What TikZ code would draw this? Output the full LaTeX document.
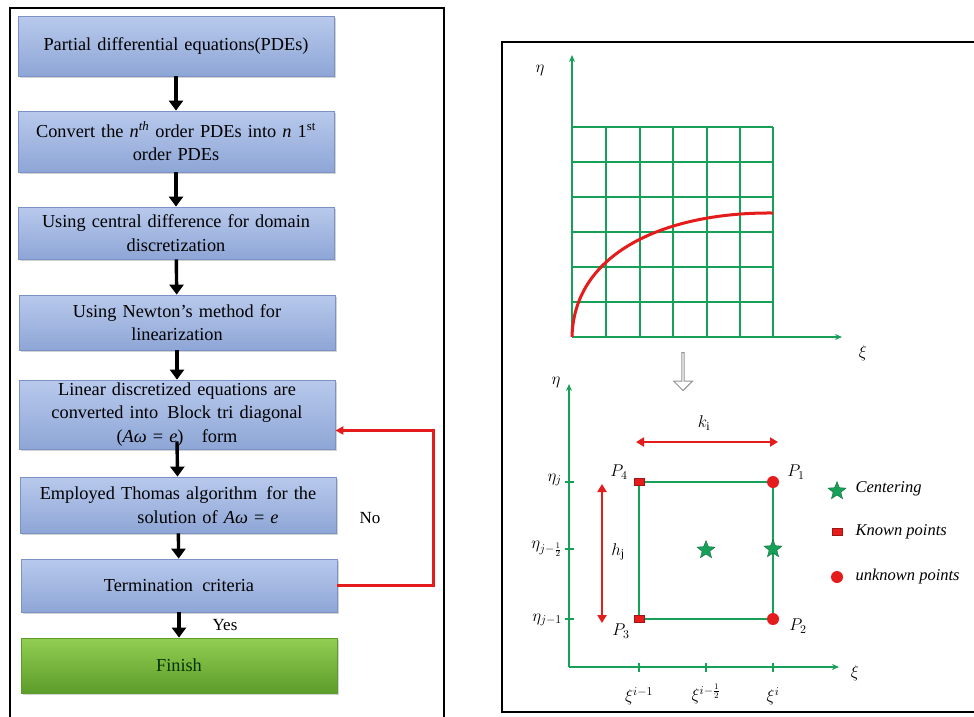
\RequirePackage{fix-cm}
\documentclass[tikz,border=0pt]{standalone}
\usepackage{amsmath,amssymb}
\usepackage{fontspec}
\setmainfont{Liberation Serif}
\usetikzlibrary{arrows.meta,shapes.geometric,shapes.arrows,shadows}

\definecolor{boxtop}{RGB}{184,201,236}
\definecolor{boxbot}{RGB}{142,166,214}
\definecolor{boxline}{RGB}{122,146,196}
\definecolor{fintop}{RGB}{146,206,82}
\definecolor{finbot}{RGB}{92,156,42}
\definecolor{gridgreen}{RGB}{22,160,88}
\definecolor{loopred}{RGB}{228,28,28}

\newcommand{\eqAe}{(\textit{Aω}~=~\textit{e})}

\tikzset{
  stepbox/.style={draw=boxline, line width=0.8pt, top color=boxtop, bottom color=boxbot,
    minimum width=316pt, text width=306pt, align=center, inner sep=2pt,
    font=\fontsize{18.3}{23.5}\selectfont,
    drop shadow={opacity=0.35, shadow xshift=1.5pt, shadow yshift=-2pt}},
  finbox/.style={stepbox, draw=finbot, top color=fintop, bottom color=finbot},
  flow/.style={-{Triangle[length=10pt,width=14pt]}, line width=3.4pt},
  gaxis/.style={-{Stealth[length=7pt,width=6pt]}, gridgreen, line width=1.6pt},
  tick/.style={gridgreen, line width=1.4pt},
  lab/.style={font=\fontsize{17}{19}\selectfont, inner sep=1pt},
  known/.style={rectangle, fill=loopred, draw=loopred!70!black, minimum width=10pt, minimum height=7pt, inner sep=0pt},
  unknown/.style={circle, fill=loopred, minimum size=12pt, inner sep=0pt},
  centre/.style={star, star points=5, star point ratio=2.3, fill=gridgreen, draw=gridgreen!60!black, line width=0.3pt, minimum size=19pt, inner sep=0pt}
}

\begin{document}
\begin{tikzpicture}[x=1pt, y=-1pt]
\useasboundingbox (0,0) rectangle (974,716);

% frames
\draw[line width=2pt] (10,718) -- (10,8) -- (444,8) -- (444,718);
\draw[line width=1.8pt] (976,42) -- (502,42) -- (502,712) -- (976,712);

% flowchart (left)
\node[stepbox, minimum height=60pt] (pde) at (176,46) {Partial differential equations(PDEs)};
\node[stepbox, minimum height=61pt] (conv) at (176,141.5) {Convert the \textit{n}\textsuperscript{\textit{th}} order PDEs into \textit{n} 1\textsuperscript{st}\\ order PDEs};
\node[stepbox, minimum height=52pt] (disc) at (176,233) {Using central difference for domain\\ discretization};
\node[stepbox, minimum height=55pt] (newt) at (177,322.5) {Using Newton's method for\\ linearization};
\node[stepbox, minimum height=69pt] (lin) at (177,414.5) {Linear discretized equations are\\ converted into\, Block tri diagonal\\ \eqAe\quad form};
\node[stepbox, minimum height=56pt] (thom) at (178,505) {Employed Thomas algorithm\, for the\\ \hspace*{60pt}solution of \textit{Aω}~=~\textit{e}};
\node[stepbox, minimum height=53pt] (crit) at (179,585.5) {Termination\, criteria};
\node[finbox, minimum height=55pt] (fin) at (179,665.5) {\textcolor{black!80!green}{Finish}};

\draw[flow] (pde) -- (conv);
\draw[flow] (conv) -- (disc);
\draw[flow] (disc) -- (newt);
\draw[flow] (newt) -- (lin);
\draw[flow] ([yshift=8pt]lin.south) -- (thom);
\draw[flow] (thom) -- (crit);
\draw[flow] (crit) -- (fin);

% loop back
\draw[loopred, line width=2.2pt, -{Triangle[length=8pt,width=8pt]}] (crit.east) -- ++(96,0) |- ([yshift=-16pt]lin.east);
\node[font=\fontsize{17}{20}\selectfont] (no) at (370,518) {No};
\node[font=\fontsize{17}{20}\selectfont] (yes) at (225,625) {Yes};

% grid plot (top right)
\draw[gaxis] (572,337) -- (572,55);
\draw[gaxis] (572,337) -- (842,337);
\foreach \gx in {606,640,673,707,740,773} \draw[gridgreen, line width=1.6pt] (\gx,127) -- (\gx,337);
\foreach \gy in {127,162,197,232,267,302} \draw[gridgreen, line width=1.6pt] (572,\gy) -- (773,\gy);
\draw[loopred, line width=3pt] (572,337) .. controls (574,250) and (670,212) .. (773,213);
\node[lab] (eta1) at (540,70) {$\eta$};
\node[lab] (xi1) at (863,353) {$\xi$};

% hollow arrow
\node[single arrow, draw=gray!85, fill=white, line width=1pt, rotate=-90,
  minimum height=38pt, minimum width=19pt, single arrow head extend=4pt,
  single arrow tip angle=90, inner sep=0pt] (down) at (683,371) {};

% cell (bottom right)
\coordinate (org) at (569,667);
\draw[gaxis] (org) -- (569,384);
\draw[gaxis] (org) -- (839,667);
\node[lab] (eta2) at (556,382) {$\eta$};
\node[lab] (xi2) at (855,673) {$\xi$};

\coordinate (p1) at (773,482);
\coordinate (p2) at (773,619);
\coordinate (p3) at (639,619);
\coordinate (p4) at (639,482);
\draw[gridgreen, line width=1.6pt] (p1) -- (p2) -- (p3) -- (p4) -- cycle;

% ticks and tick labels
\draw[tick] (565,482) -- (574,482);
\draw[tick] (565,549) -- (574,549);
\draw[tick] (565,619) -- (574,619);
\node[lab, left] (ej) at (563,480) {$\eta_j$};
\node[lab, left] (eh) at (563,549) {$\eta_{j-\frac{1}{2}}$};
\node[lab, left] (em) at (563,620) {$\eta_{j-1}$};
\draw[tick] (639,663) -- (639,672);
\draw[tick] (706,663) -- (706,672);
\draw[tick] (773,663) -- (773,672);
\node[lab] (xm) at (639,696) {$\xi^{i-1}$};
\node[lab] (xh) at (706,694) {$\xi^{i-\frac{1}{2}}$};
\node[lab] (xi) at (773,696) {$\xi^{i}$};

% spacings
\draw[loopred, line width=2.2pt, {Triangle[length=8pt,width=9pt]}-{Triangle[length=8pt,width=9pt]}] (636,442) -- (778,442);
\node[lab] (k) at (704,423) {$k_{\mathrm{i}}$};
\draw[loopred, line width=2.2pt, {Triangle[length=8pt,width=9pt]}-{Triangle[length=8pt,width=9pt]}] (602,484) -- (602,623);
\node[lab] (h) at (618,552) {$h_{\mathrm{j}}$};

% points
\node[known] (k4) at (p4) {};
\node[known] (k3) at (p3) {};
\node[unknown] (u1) at (p1) {};
\node[unknown] (u2) at (p2) {};
\node[centre] (c1) at (706,550) {};
\node[centre] (c2) at (773,549) {};
\node[lab] (l4) at (619,472) {$P_4$};
\node[lab] (l1) at (796,472) {$P_1$};
\node[lab] (l3) at (621,631) {$P_3$};
\node[lab] (l2) at (798,626) {$P_2$};

% legend
\node[centre] (lc) at (837,491) {};
\node[known] (lk) at (837,532) {};
\node[unknown] (lu) at (837,577) {};
\node[right, font=\fontsize{16.5}{18}\selectfont\itshape] at (852,489) {Centering};
\node[right, font=\fontsize{16.5}{18}\selectfont\itshape] at (852,532) {Known points};
\node[right, font=\fontsize{16.5}{18}\selectfont\itshape] at (852,577) {unknown points};

\end{tikzpicture}
\end{document}
